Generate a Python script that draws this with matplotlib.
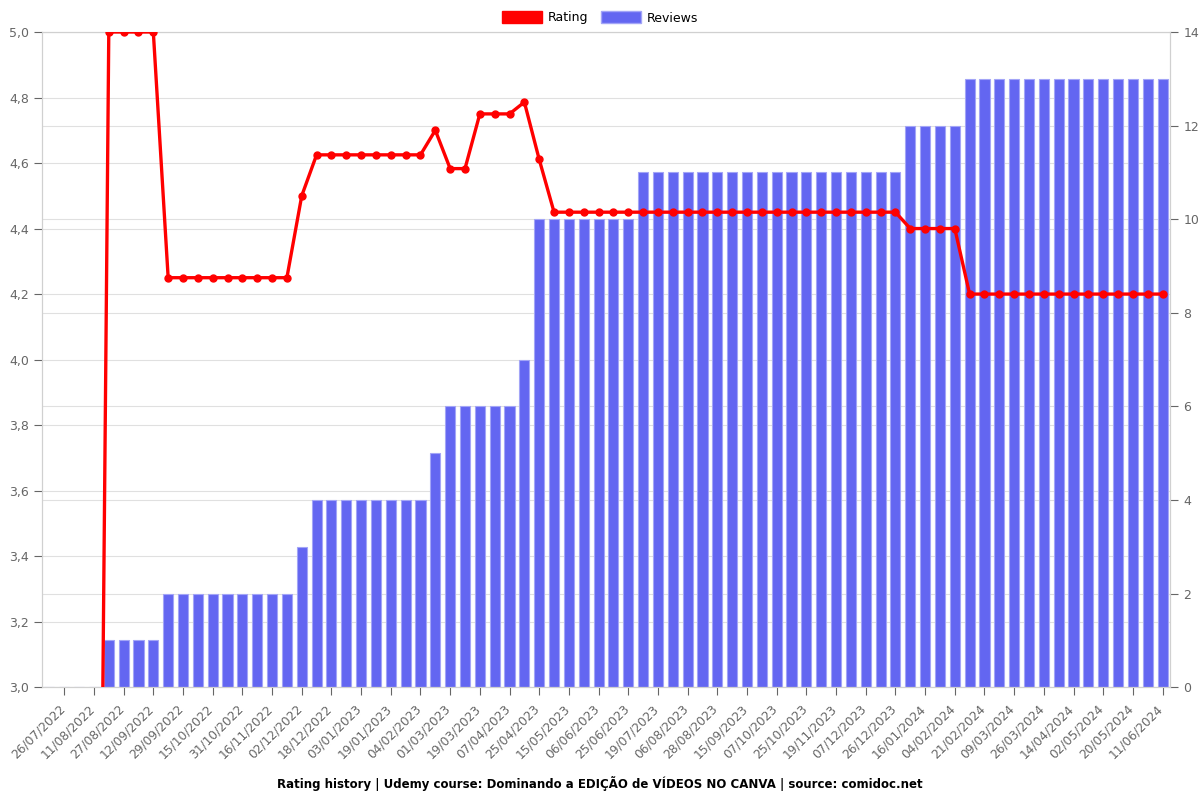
import matplotlib.pyplot as plt
from matplotlib.patches import Patch
import matplotlib.transforms as mtransforms
import numpy as np

# tick labels (one every second point)
tick_dates = ['26/07/2022', '11/08/2022', '27/08/2022', '12/09/2022', '29/09/2022',
              '15/10/2022', '31/10/2022', '16/11/2022', '02/12/2022', '18/12/2022',
              '03/01/2023', '19/01/2023', '04/02/2023', '01/03/2023', '19/03/2023',
              '07/04/2023', '25/04/2023', '15/05/2023', '06/06/2023', '25/06/2023',
              '19/07/2023', '06/08/2023', '28/08/2023', '15/09/2023', '07/10/2023',
              '25/10/2023', '19/11/2023', '07/12/2023', '26/12/2023', '16/01/2024',
              '04/02/2024', '21/02/2024', '09/03/2024', '26/03/2024', '14/04/2024',
              '02/05/2024', '20/05/2024', '11/06/2024']

rating = [0, 0, 0, 0,
          5.0, 5.0, 5.0, 5.0,
          4.25, 4.25, 4.25, 4.25, 4.25, 4.25, 4.25, 4.25, 4.25,
          4.5,
          4.625, 4.625, 4.625, 4.625, 4.625, 4.625, 4.625, 4.625,
          4.7,
          4.583, 4.583,
          4.75, 4.75, 4.75,
          4.786,
          4.611,
          4.45, 4.45, 4.45, 4.45, 4.45, 4.45, 4.45, 4.45, 4.45, 4.45, 4.45, 4.45,
          4.45, 4.45, 4.45, 4.45, 4.45, 4.45, 4.45, 4.45, 4.45, 4.45, 4.45, 4.45,
          4.4, 4.4, 4.4, 4.4,
          4.2, 4.2, 4.2, 4.2, 4.2, 4.2, 4.2, 4.2, 4.2, 4.2, 4.2, 4.2, 4.2, 4.2]

reviews = [0, 0, 0, 0,
           1, 1, 1, 1,
           2, 2, 2, 2, 2, 2, 2, 2, 2,
           3,
           4, 4, 4, 4, 4, 4, 4, 4,
           5,
           6, 6, 6, 6, 6,
           7,
           10, 10, 10, 10, 10, 10, 10,
           11, 11, 11, 11, 11, 11, 11, 11, 11, 11, 11, 11, 11, 11, 11, 11, 11, 11,
           12, 12, 12, 12,
           13, 13, 13, 13, 13, 13, 13, 13, 13, 13, 13, 13, 13, 13]

x = np.arange(len(rating))
grid_c = '#e0e0e0'
text_c = '#666666'

fig = plt.figure(figsize=(12, 8), dpi=100)
ax = fig.add_axes([0.035, 0.141, 0.94, 0.819])
ax2 = ax.twinx()
# rating line on top, bars (and grid) underneath
ax.set_zorder(2)
ax2.set_zorder(1)
ax.patch.set_visible(False)

ax2.bar(x, reviews, width=0.68, color='#6366f1', edgecolor='#a3a5f7', linewidth=0.8, zorder=2)
ax2.set_ylim(0, 14)
ax2.set_yticks(np.arange(0, 15, 2))
# rating gridlines drawn on the bar axis so they sit behind the bars
ax2.set_yticks((np.arange(3.0, 5.01, 0.2) - 3.0) * 7, minor=True)
ax2.grid(True, which='both', axis='y', color=grid_c, linewidth=0.8, zorder=0)
ax2.grid(True, which='major', axis='x', color=grid_c, linewidth=0.8, zorder=0)
ax2.set_axisbelow(True)
ax2.tick_params(axis='y', which='minor', length=0)
ax2.tick_params(axis='y', which='major', colors=text_c, labelsize=9, length=6)

ax.plot(x, rating, color='#ff0000', linewidth=2.4, marker='o', markersize=5, zorder=3)
ax.set_ylim(3.0, 5.0)
ax.set_yticks(np.arange(3.0, 5.01, 0.2))
ax.set_yticklabels([f'{v:.1f}'.replace('.', ',') for v in np.arange(3.0, 5.01, 0.2)])
ax.set_xlim(-0.5, len(x) - 0.5)
ax.set_xticks(x[1::2])
ax.set_xticklabels(tick_dates, rotation=45, ha='right', rotation_mode='anchor')
ax.tick_params(axis='y', colors=text_c, labelsize=9, length=6)
ax.tick_params(axis='x', colors=text_c, labelsize=8.8, length=6, pad=5)
# nudge the rotated date labels a little to the left
shift = mtransforms.ScaledTranslation(-6 / 100, 0, fig.dpi_scale_trans)
for lbl in ax.get_xticklabels():
    lbl.set_transform(lbl.get_transform() + shift)

for a in (ax, ax2):
    for s in a.spines.values():
        s.set_color('#d0d0d0')
        s.set_linewidth(0.8)

handles = [Patch(facecolor='#ff0000', edgecolor='#ff0000'),
           Patch(facecolor='#6366f1', edgecolor='#a3a5f7')]
fig.legend(handles, ['Rating', 'Reviews'], loc='upper center', bbox_to_anchor=(0.5, 1.0),
           ncol=2, frameon=False, fontsize=9, handlelength=3.2, handleheight=1.1,
           columnspacing=1.0, handletextpad=0.5)

fig.text(0.5, 0.021, 'Rating history | Udemy course: Dominando a EDIÇÃO de VÍDEOS NO CANVA | source: comidoc.net',
         ha='center', va='center', fontsize=8.5, fontweight='bold')

fig.savefig('out.png', dpi=100)
